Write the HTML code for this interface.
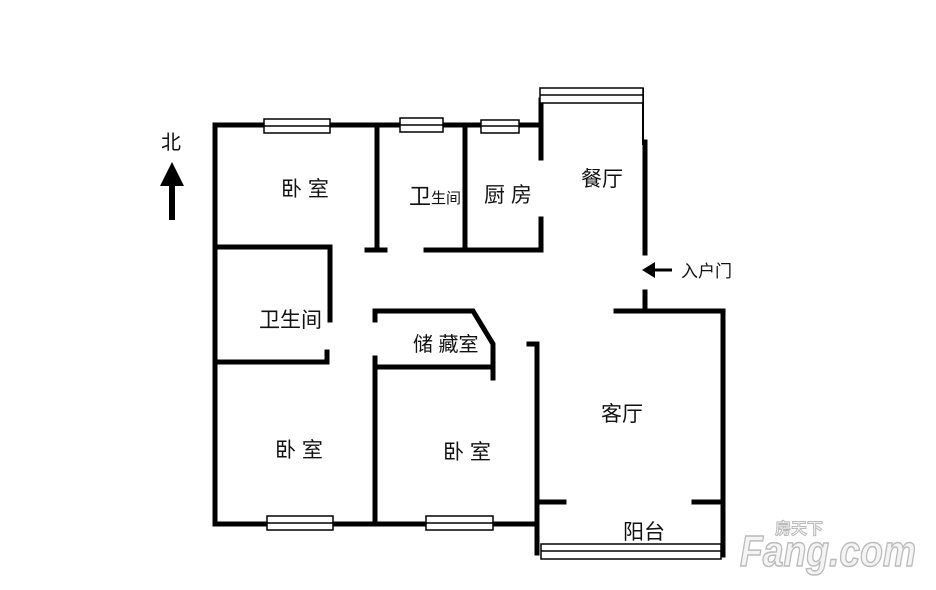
<!DOCTYPE html>
<html><head><meta charset="utf-8"><style>
html,body{margin:0;padding:0;background:#fff;}
svg{display:block;}
text{font-family:"Liberation Sans","Noto Sans CJK SC",sans-serif;fill:#111;}
</style></head><body>
<svg width="936" height="590" viewBox="0 0 936 590" xmlns="http://www.w3.org/2000/svg">
<g stroke="#000" stroke-width="5" fill="none" stroke-linecap="square">
<path d="M215 125 V524 H537"/>
<path d="M215 125 H541"/>
<path d="M377 125 V250 M367 250 H385"/>
<path d="M465 125 V250 M426 250 H541"/>
<path d="M541 100 V158 M541 219 V250"/>
<path d="M645 142 V253"/>
<path d="M215 247 H330 V320 M327 352 V362 M215 362 H327"/>
<path d="M375 311 H473 L493 344 V378 M375 311 V320 M375 367 H493 M375 358 V522"/>
<path d="M529 344 H537 V553"/>
<path d="M616 311 H723 V555 M645 292 V311"/>
<path d="M537 502 H564 M694 502 H723"/>
</g>
<line x1="643" y1="88" x2="643" y2="145" stroke="#000" stroke-width="2"/>
<g fill="#fff" stroke="#000" stroke-width="1.5">
<rect x="264" y="119" width="66" height="14"/><line x1="264" y1="126" x2="330" y2="126"/>
<rect x="400" y="118" width="43" height="14"/><line x1="400" y1="125" x2="443" y2="125"/>
<rect x="481" y="120" width="38" height="13"/><line x1="481" y1="126" x2="519" y2="126"/>
<rect x="540" y="88" width="103" height="15"/><line x1="540" y1="95" x2="643" y2="95"/>
<rect x="267" y="516" width="66" height="14"/><line x1="267" y1="523" x2="333" y2="523"/>
<rect x="426" y="516" width="67" height="14"/><line x1="426" y1="523" x2="493" y2="523"/>
<rect x="541" y="544" width="180" height="15"/><line x1="541" y1="551" x2="721" y2="551"/>
</g>
<line x1="172" y1="180" x2="172" y2="220" stroke="#000" stroke-width="6"/>
<polygon points="160,186 172,162 184,186" fill="#000"/>
<text x="161" y="149" font-size="20">北</text>
<line x1="650" y1="270" x2="672" y2="270" stroke="#000" stroke-width="3"/>
<polygon points="642,270 655,262 655,278" fill="#000"/>
<text x="681" y="277" font-size="17">入户门</text>
<g font-size="21">
<text x="281" y="196">卧 室</text>
<text x="409" y="204" font-size="22">卫</text><text x="431" y="203" font-size="15">生间</text>
<text x="484" y="202">厨 房</text>
<text x="581" y="186">餐厅</text>
<text x="259" y="327">卫生间</text>
<text x="413" y="351" font-size="20">储 藏室</text>
<text x="601" y="421">客厅</text>
<text x="275" y="457">卧 室</text>
<text x="443" y="459">卧 室</text>
<text x="623" y="539">阳台</text>
</g>
<text x="740" y="566" font-size="44" font-weight="bold" font-style="italic" textLength="176" lengthAdjust="spacingAndGlyphs" style="fill:#f4f4f4" stroke="#bbb" stroke-width="1.5">Fang.com</text>
<text x="775" y="534" font-size="16" font-weight="bold" style="fill:#f4f4f4" stroke="#bbb" stroke-width="1">房天下</text>
</svg>
</body></html>
